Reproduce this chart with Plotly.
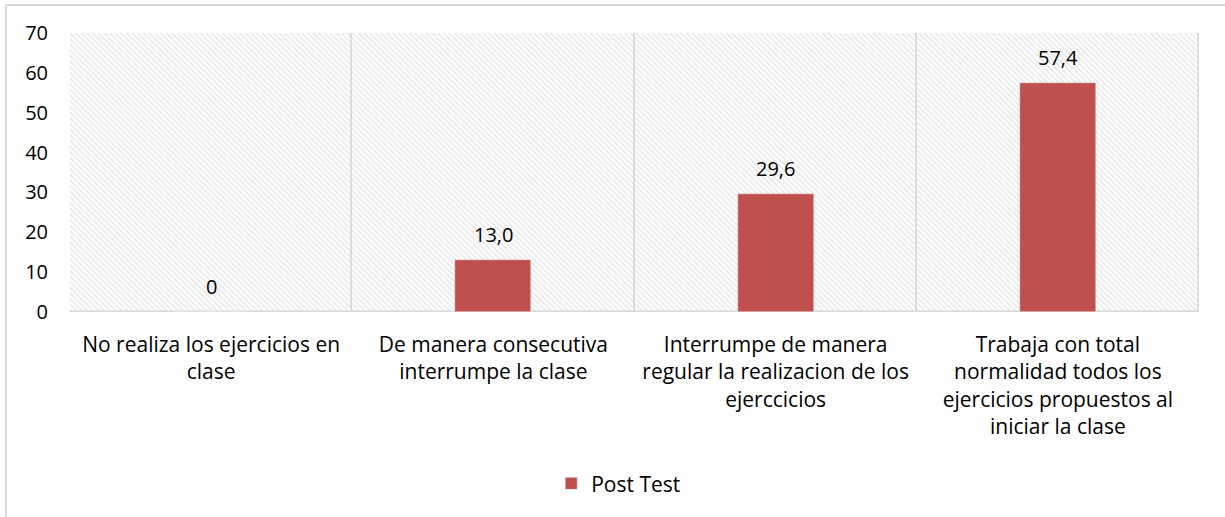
import plotly.graph_objects as go

categories = [
    "No realiza los ejercicios en<br>clase",
    "De manera consecutiva<br>interrumpe la clase",
    "Interrumpe de manera<br>regular la realizacion de los<br>ejerccicios",
    "Trabaja con total<br>normalidad todos los<br>ejercicios propuestos al<br>iniciar la clase",
]
post_test = [0, 13.0, 29.6, 57.4]
value_labels = ["0", "13,0", "29,6", "57,4"]
y_ticks = [0, 10, 20, 30, 40, 50, 60, 70]
y_max = 70

W, H = 1225, 517
L, R, T, B = 70, 26, 33, 205
FONT = "Open Sans"
FS = 21

fig = go.Figure()

# hatched background of plot area (one full-width cell per category)
fig.add_trace(go.Bar(
    x=categories, y=[y_max] * len(categories), width=1,
    marker=dict(color="white",
                line=dict(color="#d9d9d9", width=1.5),
                pattern=dict(shape="\\", fgcolor="#d0d0d0", bgcolor="white",
                             size=4, solidity=0.45)),
    hoverinfo="skip", showlegend=False,
))

fig.add_trace(go.Bar(
    x=categories, y=post_test, name="Post Test", width=0.27,
    marker=dict(color="#C0504D"),
    hoverinfo="x+y",
))

# value labels above the bars
for c, v, t in zip(categories, post_test, value_labels):
    fig.add_annotation(x=c, y=v, text=t, showarrow=False, yanchor="middle",
                       yshift=26, font=dict(family=FONT, size=20, color="#000000"))

# horizontal gridlines
for v in y_ticks[1:]:
    fig.add_shape(type="line", xref="paper", yref="y", x0=0, x1=1, y0=v, y1=v,
                  line=dict(color="#d9d9d9", width=1.5), layer="below")

fig.update_layout(
    width=W, height=H,
    margin=dict(l=L, r=R, t=T, b=B),
    barmode="overlay",
    paper_bgcolor="white", plot_bgcolor="white",
    font=dict(family=FONT, size=FS, color="#000000"),
    showlegend=True,
    legend=dict(orientation="h", x=0.486, xanchor="center", y=-0.542, yanchor="top",
                font=dict(family=FONT, size=FS, color="#000000")),
    xaxis=dict(showgrid=False, tickfont=dict(family=FONT, size=FS, color="#000000"),
               ticks="", showline=False, ticklabelstandoff=18),
    yaxis=dict(range=[0, y_max], tickvals=y_ticks, showgrid=False,
               tickfont=dict(family=FONT, size=20, color="#000000"),
               ticks="", ticklabelstandoff=21, zeroline=False,
               showline=False),
    shapes=[dict(type="rect", xref="paper", yref="paper",
                 x0=(6 - L) / (W - L - R), x1=1.2,
                 y0=-2, y1=(H - B - 5) / (H - T - B),
                 line=dict(color="#d9d9d9", width=2), layer="below")],
    bargap=0,
)

fig.write_html("out.html", config={"displayModeBar": False},
               post_script="document.body.style.margin='0';")
